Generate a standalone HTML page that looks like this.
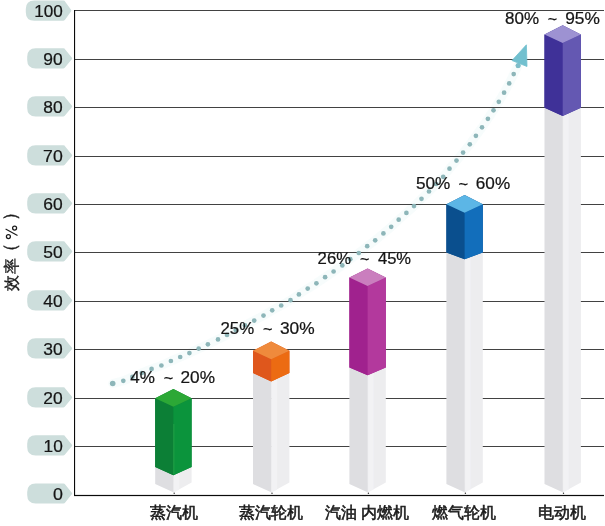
<!DOCTYPE html>
<html><head><meta charset="utf-8"><style>
html,body{margin:0;padding:0;background:#fff;width:605px;height:526px;overflow:hidden;position:relative}
text{font-family:"Liberation Sans",sans-serif}
.n{font-size:16px;fill:#151515;stroke:#151515;stroke-width:0.22}
.p{font-size:16px;fill:#151515;stroke:#151515;stroke-width:0.22}
.c{font-size:16.4px;fill:#1a1a1a;font-weight:400;stroke:#1a1a1a;stroke-width:0.55}
.t{fill:#1a1a1a;stroke:#1a1a1a;stroke-width:0.35}
</style></head><body>
<svg width="605" height="526" viewBox="0 0 605 526" style="position:absolute;left:0;top:0;will-change:transform">
<path d="M35.7,483.40 L63.4,483.40 Q64.6,483.40 65.4,484.80 L72.0,492.90 Q72.4,493.50 72.0,494.10 L65.4,502.20 Q64.6,503.60 63.4,503.60 L35.7,503.60 Q27.2,503.60 27.2,495.10 L27.2,491.90 Q27.2,483.40 35.7,483.40 Z" fill="#cddedc"/>
<text transform="matrix(1.1133,0,0,1,52.96,499.95)" class="n">0</text>
<path d="M35.7,435.30 L63.4,435.30 Q64.6,435.30 65.4,436.70 L72.0,444.80 Q72.4,445.40 72.0,446.00 L65.4,454.10 Q64.6,455.50 63.4,455.50 L35.7,455.50 Q27.2,455.50 27.2,447.00 L27.2,443.80 Q27.2,435.30 35.7,435.30 Z" fill="#cddedc"/>
<text transform="matrix(1.0781,0,0,1,43.55,451.85)" class="n">10</text>
<path d="M35.7,387.30 L63.4,387.30 Q64.6,387.30 65.4,388.70 L72.0,396.80 Q72.4,397.40 72.0,398.00 L65.4,406.10 Q64.6,407.50 63.4,407.50 L35.7,407.50 Q27.2,407.50 27.2,399.00 L27.2,395.80 Q27.2,387.30 35.7,387.30 Z" fill="#cddedc"/>
<text transform="matrix(1.0900,0,0,1,43.35,403.85)" class="n">20</text>
<path d="M35.7,338.30 L63.4,338.30 Q64.6,338.30 65.4,339.70 L72.0,347.80 Q72.4,348.40 72.0,349.00 L65.4,357.10 Q64.6,358.50 63.4,358.50 L35.7,358.50 Q27.2,358.50 27.2,350.00 L27.2,346.80 Q27.2,338.30 35.7,338.30 Z" fill="#cddedc"/>
<text transform="matrix(1.0900,0,0,1,43.35,354.85)" class="n">30</text>
<path d="M35.7,290.30 L63.4,290.30 Q64.6,290.30 65.4,291.70 L72.0,299.80 Q72.4,300.40 72.0,301.00 L65.4,309.10 Q64.6,310.50 63.4,310.50 L35.7,310.50 Q27.2,310.50 27.2,302.00 L27.2,298.80 Q27.2,290.30 35.7,290.30 Z" fill="#cddedc"/>
<text transform="matrix(1.0900,0,0,1,43.35,306.85)" class="n">40</text>
<path d="M35.7,241.30 L63.4,241.30 Q64.6,241.30 65.4,242.70 L72.0,250.80 Q72.4,251.40 72.0,252.00 L65.4,260.10 Q64.6,261.50 63.4,261.50 L35.7,261.50 Q27.2,261.50 27.2,253.00 L27.2,249.80 Q27.2,241.30 35.7,241.30 Z" fill="#cddedc"/>
<text transform="matrix(1.0900,0,0,1,43.35,257.85)" class="n">50</text>
<path d="M35.7,193.30 L63.4,193.30 Q64.6,193.30 65.4,194.70 L72.0,202.80 Q72.4,203.40 72.0,204.00 L65.4,212.10 Q64.6,213.50 63.4,213.50 L35.7,213.50 Q27.2,213.50 27.2,205.00 L27.2,201.80 Q27.2,193.30 35.7,193.30 Z" fill="#cddedc"/>
<text transform="matrix(1.0900,0,0,1,43.35,209.85)" class="n">60</text>
<path d="M35.7,145.30 L63.4,145.30 Q64.6,145.30 65.4,146.70 L72.0,154.80 Q72.4,155.40 72.0,156.00 L65.4,164.10 Q64.6,165.50 63.4,165.50 L35.7,165.50 Q27.2,165.50 27.2,157.00 L27.2,153.80 Q27.2,145.30 35.7,145.30 Z" fill="#cddedc"/>
<text transform="matrix(1.1061,0,0,1,43.07,161.85)" class="n">70</text>
<path d="M35.7,96.30 L63.4,96.30 Q64.6,96.30 65.4,97.70 L72.0,105.80 Q72.4,106.40 72.0,107.00 L65.4,115.10 Q64.6,116.50 63.4,116.50 L35.7,116.50 Q27.2,116.50 27.2,108.00 L27.2,104.80 Q27.2,96.30 35.7,96.30 Z" fill="#cddedc"/>
<text transform="matrix(1.0900,0,0,1,43.35,112.85)" class="n">80</text>
<path d="M35.7,48.30 L63.4,48.30 Q64.6,48.30 65.4,49.70 L72.0,57.80 Q72.4,58.40 72.0,59.00 L65.4,67.10 Q64.6,68.50 63.4,68.50 L35.7,68.50 Q27.2,68.50 27.2,60.00 L27.2,56.80 Q27.2,48.30 35.7,48.30 Z" fill="#cddedc"/>
<text transform="matrix(1.0900,0,0,1,43.35,64.85)" class="n">90</text>
<path d="M34.3,0.50 L63.4,0.50 Q64.6,0.50 65.4,1.90 L71.2,10.00 Q71.60000000000001,10.60 71.2,11.20 L65.4,19.30 Q64.6,20.70 63.4,20.70 L34.3,20.70 Q25.8,20.70 25.8,12.20 L25.8,9.00 Q25.8,0.50 34.3,0.50 Z" fill="#cddedc"/>
<text transform="matrix(1.0707,0,0,1,34.31,17.05)" class="n">100</text>
<polyline points="112.7,383.5 123.3,380.8 132.4,376.9 141.8,373 151.6,368.9 161.4,365.5 170.9,361 180.2,357 189.4,353.1 198.7,348.6 207.9,344.3 218,339.4 227,334.9 235.7,330.1 245,325.3 254.2,320.6 263.5,315.6 272.2,310.3 281.2,305.5 290.5,300.2 298.9,294.4 307.7,288.6 316.4,283.3 325.1,277.2 333.6,271.5 342.3,265.4 350.3,259.2 358.8,253 367.2,246.2 375.2,240.3 383.4,233.4 391.2,226.8 398.7,219.7 406.4,212.9 414,206.1 421.5,198.8 429,191.5 436.3,184 443.2,176.8 449.5,168.7 456.5,160.6 463.1,152.6 469.8,144.3 475.9,135.8 482,127.3 487.9,118.8 493.5,110.3 498.8,101.8 504.1,92.7 509.2,83.4 513.7,74.1 518,65.8" fill="none" stroke="#e4f6f6" stroke-width="9" stroke-linecap="round" stroke-linejoin="round" opacity="0.3"/>
<rect x="74" y="446" width="530" height="1" fill="#424242"/>
<rect x="74" y="398" width="530" height="1" fill="#424242"/>
<rect x="74" y="349" width="530" height="1" fill="#424242"/>
<rect x="74" y="301" width="530" height="1" fill="#424242"/>
<rect x="74" y="252" width="530" height="1" fill="#424242"/>
<rect x="74" y="204" width="530" height="1" fill="#424242"/>
<rect x="74" y="156" width="530" height="1" fill="#424242"/>
<rect x="74" y="107" width="530" height="1" fill="#424242"/>
<rect x="74" y="59" width="530" height="1" fill="#424242"/>
<rect x="74" y="10" width="530" height="1" fill="#424242"/>
<rect x="74" y="494.9" width="530" height="1.2" fill="#0a0a0a"/>
<rect x="74" y="10" width="1.1" height="486" fill="#0a0a0a"/>
<polygon points="155.20000000000002,467.1 173.4,475.3 173.9,475.3 173.9,492.6 155.20000000000002,484.0" fill="#dedee1"/>
<polygon points="173.4,475.3 191.6,467.1 191.6,482.5 173.4,492.6" fill="#ededef"/>
<polygon points="173.9,475.0 179.4,472.3 179.4,489.6 173.9,492.6" fill="#f3f3f5" opacity="0.8"/>
<polygon points="155.20000000000002,398.2 173.4,389.0 191.6,398.2 191.6,467.1 173.4,475.3 155.20000000000002,467.1" fill="#0c7f36"/>
<polygon points="155.20000000000002,398.2 173.4,406.7 173.4,475.3 155.20000000000002,467.1" fill="#0c7f36"/>
<polygon points="173.4,406.7 191.6,398.2 191.6,467.1 173.4,475.3" fill="#0b943c"/>
<polygon points="173.4,389.0 191.6,398.2 173.4,406.7 155.20000000000002,398.2" fill="#2ca836"/>
<circle cx="174.20000000000002" cy="493.3" r="0.7" fill="#333"/>
<polygon points="253.0,373.0 271.2,381.4 271.7,381.4 271.7,492.6 253.0,484.0" fill="#dedee1"/>
<polygon points="271.2,381.4 289.4,373.0 289.4,482.5 271.2,492.6" fill="#ededef"/>
<polygon points="271.7,381.09999999999997 277.2,378.4 277.2,489.6 271.7,492.6" fill="#f3f3f5" opacity="0.8"/>
<polygon points="253.0,350.8 271.2,341.6 289.4,350.8 289.4,373.0 271.2,381.4 253.0,373.0" fill="#df571c"/>
<polygon points="253.0,350.8 271.2,359.3 271.2,381.4 253.0,373.0" fill="#df571c"/>
<polygon points="271.2,359.3 289.4,350.8 289.4,373.0 271.2,381.4" fill="#ec6b12"/>
<polygon points="271.2,341.6 289.4,350.8 271.2,359.3 253.0,350.8" fill="#ef8a3c"/>
<circle cx="272.0" cy="493.3" r="0.7" fill="#333"/>
<polygon points="349.40000000000003,367.4 367.6,375.29999999999995 368.1,375.29999999999995 368.1,492.6 349.40000000000003,484.0" fill="#dedee1"/>
<polygon points="367.6,375.29999999999995 385.8,367.4 385.8,482.5 367.6,492.6" fill="#ededef"/>
<polygon points="368.1,374.99999999999994 373.6,372.29999999999995 373.6,489.6 368.1,492.6" fill="#f3f3f5" opacity="0.8"/>
<polygon points="349.40000000000003,277.6 367.6,268.40000000000003 385.8,277.6 385.8,367.4 367.6,375.29999999999995 349.40000000000003,367.4" fill="#a0228e"/>
<polygon points="349.40000000000003,277.6 367.6,286.1 367.6,375.29999999999995 349.40000000000003,367.4" fill="#a0228e"/>
<polygon points="367.6,286.1 385.8,277.6 385.8,367.4 367.6,375.29999999999995" fill="#b3399d"/>
<polygon points="367.6,268.40000000000003 385.8,277.6 367.6,286.1 349.40000000000003,277.6" fill="#ca7ebe"/>
<circle cx="368.40000000000003" cy="493.3" r="0.7" fill="#333"/>
<polygon points="446.40000000000003,252.5 464.6,259.3 465.1,259.3 465.1,492.6 446.40000000000003,484.0" fill="#dedee1"/>
<polygon points="464.6,259.3 482.8,252.5 482.8,482.5 464.6,492.6" fill="#ededef"/>
<polygon points="465.1,259.0 470.6,256.3 470.6,489.6 465.1,492.6" fill="#f3f3f5" opacity="0.8"/>
<polygon points="446.40000000000003,204.2 464.6,195.0 482.8,204.2 482.8,252.5 464.6,259.3 446.40000000000003,252.5" fill="#0a4f8e"/>
<polygon points="446.40000000000003,204.2 464.6,212.7 464.6,259.3 446.40000000000003,252.5" fill="#0a4f8e"/>
<polygon points="464.6,212.7 482.8,204.2 482.8,252.5 464.6,259.3" fill="#126ebb"/>
<polygon points="464.6,195.0 482.8,204.2 464.6,212.7 446.40000000000003,204.2" fill="#5cb6e6"/>
<circle cx="465.40000000000003" cy="493.3" r="0.7" fill="#333"/>
<polygon points="544.5,107.8 562.7,115.89999999999999 563.2,115.89999999999999 563.2,492.6 544.5,484.0" fill="#dedee1"/>
<polygon points="562.7,115.89999999999999 580.9000000000001,107.8 580.9000000000001,482.5 562.7,492.6" fill="#ededef"/>
<polygon points="563.2,115.6 568.7,112.89999999999999 568.7,489.6 563.2,492.6" fill="#f3f3f5" opacity="0.8"/>
<polygon points="544.5,34.4 562.7,25.2 580.9000000000001,34.4 580.9000000000001,107.8 562.7,115.89999999999999 544.5,107.8" fill="#3f3198"/>
<polygon points="544.5,34.4 562.7,42.9 562.7,115.89999999999999 544.5,107.8" fill="#3f3198"/>
<polygon points="562.7,42.9 580.9000000000001,34.4 580.9000000000001,107.8 562.7,115.89999999999999" fill="#6458b2"/>
<polygon points="562.7,25.2 580.9000000000001,34.4 562.7,42.9 544.5,34.4" fill="#9d92d2"/>
<circle cx="563.5" cy="493.3" r="0.7" fill="#333"/>
<rect x="173.4" y="424" width="0.9" height="50" fill="#2aa64c" opacity="0.8"/>
<circle cx="112.7" cy="383.5" r="2.8" fill="#8db6b9"/>
<circle cx="123.3" cy="380.8" r="2.35" fill="#8db6b9"/>
<circle cx="132.4" cy="376.9" r="2.35" fill="#8db6b9"/>
<circle cx="141.8" cy="373" r="2.35" fill="#8db6b9"/>
<circle cx="151.6" cy="368.9" r="2.35" fill="#8db6b9"/>
<circle cx="161.4" cy="365.5" r="2.35" fill="#8db6b9"/>
<circle cx="170.9" cy="361" r="2.35" fill="#8db6b9"/>
<circle cx="180.2" cy="357" r="2.35" fill="#8db6b9"/>
<circle cx="189.4" cy="353.1" r="2.35" fill="#8db6b9"/>
<circle cx="198.7" cy="348.6" r="2.35" fill="#8db6b9"/>
<circle cx="207.9" cy="344.3" r="2.35" fill="#8db6b9"/>
<circle cx="218" cy="339.4" r="2.35" fill="#8db6b9"/>
<circle cx="227" cy="334.9" r="2.35" fill="#8db6b9"/>
<circle cx="235.7" cy="330.1" r="2.35" fill="#8db6b9"/>
<circle cx="245" cy="325.3" r="2.35" fill="#8db6b9"/>
<circle cx="254.2" cy="320.6" r="2.35" fill="#8db6b9"/>
<circle cx="263.5" cy="315.6" r="2.35" fill="#8db6b9"/>
<circle cx="272.2" cy="310.3" r="2.35" fill="#8db6b9"/>
<circle cx="281.2" cy="305.5" r="2.35" fill="#8db6b9"/>
<circle cx="290.5" cy="300.2" r="2.35" fill="#8db6b9"/>
<circle cx="298.9" cy="294.4" r="2.35" fill="#8db6b9"/>
<circle cx="307.7" cy="288.6" r="2.35" fill="#8db6b9"/>
<circle cx="316.4" cy="283.3" r="2.35" fill="#8db6b9"/>
<circle cx="325.1" cy="277.2" r="2.35" fill="#8db6b9"/>
<circle cx="333.6" cy="271.5" r="2.35" fill="#8db6b9"/>
<circle cx="342.3" cy="265.4" r="2.35" fill="#8db6b9"/>
<circle cx="350.3" cy="259.2" r="2.35" fill="#8db6b9"/>
<circle cx="358.8" cy="253" r="2.35" fill="#8db6b9"/>
<circle cx="367.2" cy="246.2" r="2.35" fill="#8db6b9"/>
<circle cx="375.2" cy="240.3" r="2.35" fill="#8db6b9"/>
<circle cx="383.4" cy="233.4" r="2.35" fill="#8db6b9"/>
<circle cx="391.2" cy="226.8" r="2.35" fill="#8db6b9"/>
<circle cx="398.7" cy="219.7" r="2.35" fill="#8db6b9"/>
<circle cx="406.4" cy="212.9" r="2.35" fill="#8db6b9"/>
<circle cx="414" cy="206.1" r="2.35" fill="#8db6b9"/>
<circle cx="421.5" cy="198.8" r="2.35" fill="#8db6b9"/>
<circle cx="429" cy="191.5" r="2.35" fill="#8db6b9"/>
<circle cx="436.3" cy="184" r="2.35" fill="#8db6b9"/>
<circle cx="443.2" cy="176.8" r="2.35" fill="#8db6b9"/>
<circle cx="449.5" cy="168.7" r="2.35" fill="#8db6b9"/>
<circle cx="456.5" cy="160.6" r="2.35" fill="#8db6b9"/>
<circle cx="463.1" cy="152.6" r="2.35" fill="#8db6b9"/>
<circle cx="469.8" cy="144.3" r="2.35" fill="#8db6b9"/>
<circle cx="475.9" cy="135.8" r="2.35" fill="#8db6b9"/>
<circle cx="482" cy="127.3" r="2.35" fill="#8db6b9"/>
<circle cx="487.9" cy="118.8" r="2.35" fill="#8db6b9"/>
<circle cx="493.5" cy="110.3" r="2.35" fill="#8db6b9"/>
<circle cx="498.8" cy="101.8" r="2.35" fill="#8db6b9"/>
<circle cx="504.1" cy="92.7" r="2.35" fill="#8db6b9"/>
<circle cx="509.2" cy="83.4" r="2.35" fill="#8db6b9"/>
<circle cx="513.7" cy="74.1" r="2.35" fill="#8db6b9"/>
<circle cx="518" cy="65.8" r="2.35" fill="#8db6b9"/>
<circle cx="518.2" cy="65.6" r="2.5" fill="#7dbdc9"/>
<polygon points="526.4,44.8 512,60.5 527,66.5" fill="#72c0cf" stroke="#72c0cf" stroke-width="0.8" stroke-linejoin="round"/>
<text transform="matrix(1.0697,0,0,1,130.23,382.70)" class="p">4%</text>
<text transform="matrix(1.0194,0,0,1,163.74,383.70)" class="p">~</text>
<text transform="matrix(1.0764,0,0,1,180.49,382.70)" class="p">20%</text>
<text transform="matrix(1.0537,0,0,1,220.41,333.80)" class="p">25%</text>
<text transform="matrix(1.0194,0,0,1,263.04,334.80)" class="p">~</text>
<text transform="matrix(1.0862,0,0,1,279.89,333.80)" class="p">30%</text>
<text transform="matrix(1.0472,0,0,1,317.61,263.90)" class="p">26%</text>
<text transform="matrix(1.0065,0,0,1,360.05,264.90)" class="p">~</text>
<text transform="matrix(1.0368,0,0,1,377.94,263.90)" class="p">45%</text>
<text transform="matrix(1.0732,0,0,1,416.00,188.70)" class="p">50%</text>
<text transform="matrix(1.0323,0,0,1,458.43,189.70)" class="p">~</text>
<text transform="matrix(1.0732,0,0,1,475.80,188.70)" class="p">60%</text>
<text transform="matrix(1.0634,0,0,1,505.10,23.90)" class="p">80%</text>
<text transform="matrix(1.0065,0,0,1,547.85,24.90)" class="p">~</text>
<text transform="matrix(1.0862,0,0,1,565.19,23.90)" class="p">95%</text>
<text x="174.4" y="517.6" text-anchor="middle" class="c">蒸汽机</text>
<text x="271" y="517.6" text-anchor="middle" class="c">蒸汽轮机</text>
<text x="341.3" y="517.6" text-anchor="middle" class="c">汽油</text>
<text x="385.2" y="517.6" text-anchor="middle" class="c">内燃机</text>
<text x="464" y="517.6" text-anchor="middle" class="c">燃气轮机</text>
<text x="562.2" y="517.6" text-anchor="middle" class="c">电动机</text>
<text transform="translate(16.6,282.9) rotate(-90) scale(1,1)" text-anchor="middle" class="t" style="font-size:16px;font-weight:500">效</text>
<text transform="translate(16.9,265.5) rotate(-90) scale(1,1)" text-anchor="middle" class="t" style="font-size:16px;font-weight:500">率</text>
<text transform="translate(16.0,252.2) rotate(-90) scale(1,1)" text-anchor="middle" class="t" style="font-size:17.5px;font-weight:400">（</text>
<text transform="translate(16.0,211.5) rotate(-90) scale(1,1)" text-anchor="middle" class="t" style="font-size:17.5px;font-weight:400">）</text>
<g fill="none" stroke="#1a1a1a"><circle cx="14.6" cy="228.1" r="2" stroke-width="1.25"/><circle cx="8.4" cy="236.6" r="2" stroke-width="1.25"/><line x1="5.6" y1="228.9" x2="17.5" y2="235.5" stroke-width="1.1"/></g>
</svg>
</body></html>
